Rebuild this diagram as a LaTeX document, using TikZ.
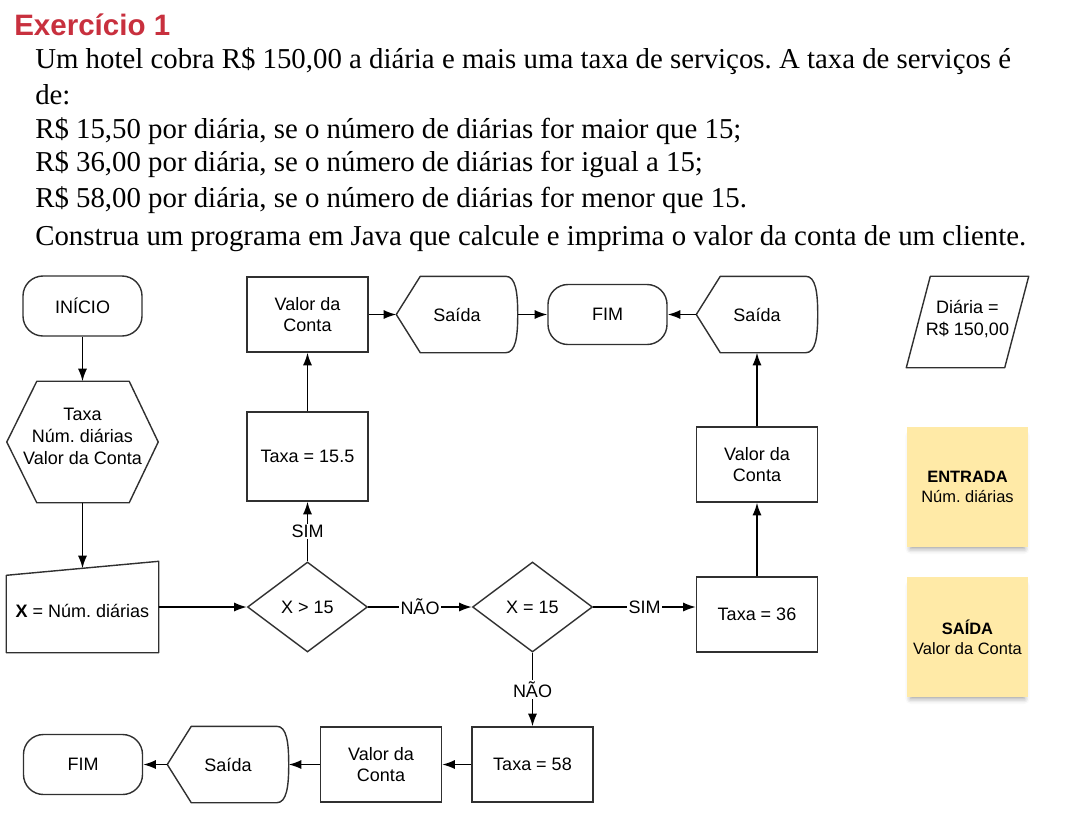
\documentclass[tikz,border=0pt]{standalone}
\usepackage{fontspec}
\setmainfont{Liberation Serif}
\newfontfamily\diagfont{Liberation Sans}
\usetikzlibrary{arrows.meta,positioning,calc,shapes.geometric,shadows.blur}
\definecolor{titred}{HTML}{C8303E}
\definecolor{linha}{HTML}{303030}
\definecolor{postit}{HTML}{FFEAA7}
\newcommand{\fonte}{\diagfont\fontsize{12.8}{15.5}\selectfont}
\frenchspacing
\tikzset{
  caixa/.style={rectangle, draw=linha, line width=1pt, minimum width=3.025cm, minimum height=1.875cm,
                align=center, inner sep=0pt, font=\fonte},
  term/.style={caixa, minimum width=2.975cm, minimum height=1.5cm, rounded corners=0.5cm},
  losango/.style={diamond, draw=linha, line width=1pt, minimum width=3cm, minimum height=2.25cm,
                  inner sep=0pt, font=\fonte},
  forma/.style={caixa, draw=none},
  contorno/.style={draw=linha, line width=1pt, line join=round},
  nota/.style={rectangle, fill=postit, minimum width=3.025cm, minimum height=3cm, align=center,
               font=\diagfont\fontsize{11.7}{14}\selectfont,
               blur shadow={shadow xshift=0pt, shadow yshift=-4pt, shadow scale=0.94, shadow blur radius=4pt}},
  arr/.style={-{Latex[length=9pt,width=6.5pt]}, line width=1.1pt, draw=black},
  rot/.style={fill=white, inner sep=1pt, font=\fonte},
}

\begin{document}
\begin{tikzpicture}[x=0.025cm, y=-0.025cm]
  \useasboundingbox (0,0) rectangle (1073,812);
  % enunciado
  \node[anchor=base west, inner sep=0pt, text=titred, font=\diagfont\bfseries\fontsize{21}{25}\selectfont]
    (titulo) at (14,35) {Exercício 1};
  \foreach \yy/\txt [count=\i] in {
      68/{Um hotel cobra R\$ 150,00 a diária e mais uma taxa de serviços. A taxa de serviços é},
      104/{de:},
      138/{R\$ 15,50 por diária, se o número de diárias for maior que 15;},
      171/{R\$ 36,00 por diária, se o número de diárias for igual a 15;},
      207/{R\$ 58,00 por diária, se o número de diárias for menor que 15.},
      245/{Construa um programa em Java que calcule e imprima o valor da conta de um cliente.}}
    \node[anchor=base west, inner sep=0pt, font=\fontsize{20.5}{25}\selectfont] (enun\i) at (35,\yy) {\txt};

  % fluxograma
  \node[term] (inicio) at (82.5,306) {INÍCIO};
  \node[forma, minimum width=3.75cm, minimum height=3cm] (decl) at (82.5,442) {Taxa\\Núm. diárias\\Valor da Conta\\[-7pt]};
  \node[forma, minimum width=3.775cm, minimum height=2.075cm] (leitura) at (82.5,610.5) {\textbf{X} = Núm. diárias};
  \node[losango] (maior) at (307.5,607) {X > 15};
  \node[losango] (igual) at (532.5,607) {X = 15};
  \node[caixa, minimum height=2.225cm] (t155) at (307.5,456.5) {Taxa = 15.5};
  \node[caixa] (conta1) at (307.5,314.5) {Valor da\\Conta};
  \node[forma, minimum width=3cm] (saida1) at (457,314.5) {Saída};
  \node[term] (fim1) at (607.5,314.5) {FIM};
  \node[forma, minimum width=3cm] (saida2) at (757,314.5) {Saída};
  \node[caixa] (conta2) at (757,464.5) {Valor da\\Conta};
  \node[caixa] (t36) at (757,614.5) {Taxa = 36};
  \node[caixa] (t58) at (532.5,764.5) {Taxa = 58};
  \node[caixa] (conta3) at (381,764.5) {Valor da\\Conta};
  \node[forma, minimum width=3cm] (saida3) at (228,764.5) {Saída};
  \node[term] (fim3) at (83,764.5) {FIM};
  \node[forma, minimum height=2.25cm] (diaria) at (967.5,322) {Diária =\\R\$ 150,00\\[-10pt]};
  \node[nota] (entrada) at (967.5,487) {\textbf{ENTRADA}\\Núm. diárias};
  \node[nota] (saidanota) at (967.5,637) {\textbf{SAÍDA}\\Valor da Conta};

  % contornos
  \draw[contorno] (decl.west) -- ($(decl.north west)+(30,0)$) -- ($(decl.north east)+(-29,0)$) -- (decl.east)
    -- ($(decl.south east)+(-29,0)$) -- ($(decl.south west)+(30,0)$) -- cycle;
  \draw[contorno] ($(leitura.north west)+(0,7)$) -- ($(leitura.north east)+(0,-7)$) -- (leitura.south east)
    -- (leitura.south west) -- cycle;
  \draw[contorno] (diaria.south west) -- ($(diaria.north west)+(24,0)$) -- (diaria.north east)
    -- ($(diaria.south east)+(-24,0)$) -- cycle;
  \foreach \s in {saida1,saida2,saida3}
    \draw[contorno] (\s.west) -- ($(\s.north west)+(24,0)$) -- ($(\s.north east)+(-12,0)$)
      .. controls ($(\s.north east)+(-2,0)$) and ($(\s.east)+(0,-22)$) .. (\s.east)
      .. controls ($(\s.east)+(0,22)$) and ($(\s.south east)+(-2,0)$) .. ($(\s.south east)+(-12,0)$)
      -- ($(\s.south west)+(24,0)$) -- cycle;

  % setas
  \draw[arr] (inicio.south) -- (decl.north);
  \draw[arr] (decl.south) -- (leitura.north);
  \draw[arr] (leitura.east |- maior.west) -- (maior.west);
  \draw[arr] (maior.north) -- node[rot]{SIM} (t155.south);
  \draw[arr] (t155.north) -- (conta1.south);
  \draw[arr] (conta1.east) -- (saida1.west);
  \draw[arr] (saida1.east) -- (fim1.west);
  \draw[arr] (maior.east) -- node[rot]{NÃO} (igual.west);
  \draw[arr] (igual.east) -- node[rot]{SIM} (igual.east -| t36.west);
  \draw[arr] (t36.north) -- (conta2.south);
  \draw[arr] (conta2.north) -- (saida2.south);
  \draw[arr] (saida2.west) -- (fim1.east);
  \draw[arr] (igual.south) -- node[rot]{NÃO} (t58.north);
  \draw[arr] (t58.west) -- (conta3.east);
  \draw[arr] (conta3.west) -- (saida3.east);
  \draw[arr] (saida3.west) -- (fim3.east);
\end{tikzpicture}
\end{document}
